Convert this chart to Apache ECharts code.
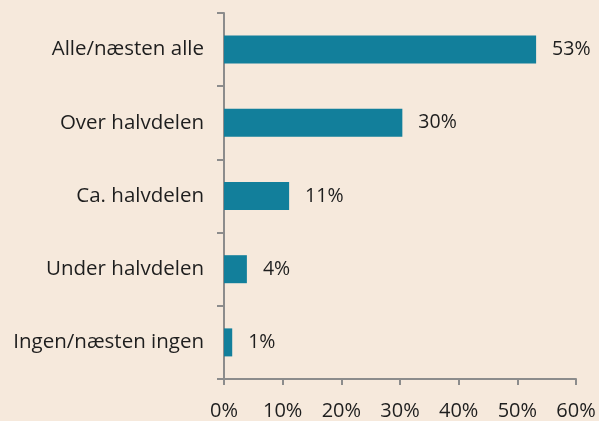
<!DOCTYPE html>
<html>
<head>
<meta charset="utf-8">
<style>
  html, body { margin: 0; padding: 0; background: #f6e9dc; }
  #chart { width: 599px; height: 421px; }
</style>
<script src="https://cdn.jsdelivr.net/npm/echarts@6/dist/echarts.min.js"></script>
</head>
<body>
<div id="chart"></div>
<script>
// 类别（自上而下）
const categories = ["Alle/næsten alle", "Over halvdelen", "Ca. halvdelen", "Under halvdelen", "Ingen/næsten ingen"];
// 百分比
const shares = [53.2, 30.4, 11.1, 3.9, 1.4];
// x 轴刻度
const xTicks = [0, 10, 20, 30, 40, 50, 60];

const fontFamily = "'Open Sans', 'Noto Sans', sans-serif";
const axisColor = "#8c8c8c";

let chart = echarts.init(document.getElementById("chart"));
let option = {
  backgroundColor: "#f6e9dc",
  animation: false,
  grid: { left: 224, right: 23, top: 13, bottom: 41 },
  xAxis: {
    type: "value",
    min: xTicks[0],
    max: xTicks[xTicks.length - 1],
    interval: 10,
    splitLine: { show: false },
    axisLine: { show: true, lineStyle: { color: axisColor, width: 2 } },
    axisTick: { show: true, length: 6, lineStyle: { color: axisColor, width: 2 } },
    axisLabel: {
      margin: 22,
      color: "#1e1e1e",
      fontSize: 20,
      fontFamily: fontFamily,
      formatter: (v) => v + "%",
    },
  },
  yAxis: {
    type: "category",
    inverse: true,
    data: categories,
    axisLine: { show: true, lineStyle: { color: axisColor, width: 2 } },
    axisTick: { show: true, length: 7, lineStyle: { color: axisColor, width: 2 } },
    axisLabel: { margin: 20, color: "#1e1e1e", fontSize: 20.5, fontFamily: fontFamily },
  },
  series: [
    {
      type: "bar",
      data: shares,
      barWidth: 28,
      itemStyle: { color: "#127f9b" },
      label: {
        show: true,
        position: "right",
        distance: 16,
        color: "#1e1e1e",
        fontSize: 19.5,
        fontFamily: fontFamily,
        formatter: (p) => Math.round(p.value) + "%",
      },
    },
  ],
};
chart.setOption(option);
</script>
</body>
</html>
